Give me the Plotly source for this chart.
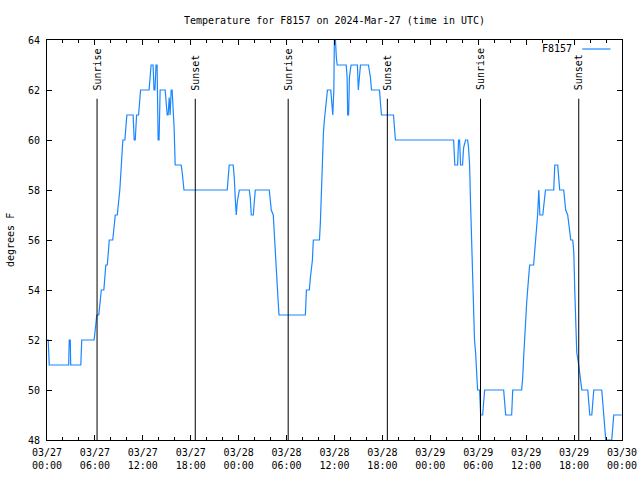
import plotly.graph_objects as go

times = [
    "2024-03-27 00:00", "2024-03-27 00:09", "2024-03-27 00:17", "2024-03-27 02:43", "2024-03-27 02:47",
    "2024-03-27 02:55", "2024-03-27 02:58", "2024-03-27 04:14", "2024-03-27 04:21", "2024-03-27 05:54",
    "2024-03-27 06:14", "2024-03-27 06:29", "2024-03-27 06:48", "2024-03-27 07:07", "2024-03-27 07:22",
    "2024-03-27 07:33", "2024-03-27 07:48", "2024-03-27 08:14", "2024-03-27 08:33", "2024-03-27 08:48",
    "2024-03-27 09:07", "2024-03-27 09:20", "2024-03-27 09:30", "2024-03-27 09:45", "2024-03-27 10:00",
    "2024-03-27 10:47", "2024-03-27 10:55", "2024-03-27 11:03", "2024-03-27 11:13", "2024-03-27 11:28",
    "2024-03-27 11:43", "2024-03-27 12:47", "2024-03-27 13:02", "2024-03-27 13:17", "2024-03-27 13:24",
    "2024-03-27 13:31", "2024-03-27 13:39", "2024-03-27 13:47", "2024-03-27 13:55", "2024-03-27 14:02",
    "2024-03-27 14:10", "2024-03-27 14:48", "2024-03-27 14:55", "2024-03-27 15:03", "2024-03-27 15:10",
    "2024-03-27 15:18", "2024-03-27 15:25", "2024-03-27 15:33", "2024-03-27 15:40", "2024-03-27 15:48",
    "2024-03-27 15:55", "2024-03-27 16:03", "2024-03-27 16:48", "2024-03-27 16:56", "2024-03-27 17:03",
    "2024-03-27 17:09", "2024-03-27 22:34", "2024-03-27 22:49", "2024-03-27 23:19", "2024-03-27 23:27",
    "2024-03-27 23:34", "2024-03-27 23:42", "2024-03-27 23:49",
    "2024-03-28 00:05", "2024-03-28 01:20", "2024-03-28 01:27", "2024-03-28 01:35", "2024-03-28 01:50",
    "2024-03-28 01:57", "2024-03-28 02:05", "2024-03-28 03:50", "2024-03-28 03:58", "2024-03-28 04:05",
    "2024-03-28 04:20", "2024-03-28 04:25", "2024-03-28 04:33", "2024-03-28 04:40", "2024-03-28 04:48",
    "2024-03-28 04:55", "2024-03-28 05:03", "2024-03-28 08:21", "2024-03-28 08:29", "2024-03-28 08:51",
    "2024-03-28 08:59", "2024-03-28 09:06", "2024-03-28 09:14", "2024-03-28 09:21", "2024-03-28 10:07",
    "2024-03-28 10:14", "2024-03-28 10:22", "2024-03-28 10:29", "2024-03-28 10:37", "2024-03-28 10:44",
    "2024-03-28 10:52", "2024-03-28 10:59", "2024-03-28 11:07", "2024-03-28 11:32", "2024-03-28 11:40",
    "2024-03-28 11:47", "2024-03-28 11:55", "2024-03-28 11:59", "2024-03-28 12:07", "2024-03-28 12:11",
    "2024-03-28 12:14", "2024-03-28 12:20", "2024-03-28 13:28", "2024-03-28 13:35", "2024-03-28 13:39",
    "2024-03-28 13:46", "2024-03-28 13:52", "2024-03-28 13:59", "2024-03-28 14:05", "2024-03-28 14:52",
    "2024-03-28 14:59", "2024-03-28 15:07", "2024-03-28 15:15", "2024-03-28 16:15", "2024-03-28 16:23",
    "2024-03-28 16:30", "2024-03-28 16:38", "2024-03-28 17:38", "2024-03-28 17:45", "2024-03-28 17:53",
    "2024-03-28 19:23", "2024-03-28 19:31", "2024-03-28 19:38",
    "2024-03-29 02:55", "2024-03-29 03:04", "2024-03-29 03:25", "2024-03-29 03:32", "2024-03-29 03:40",
    "2024-03-29 03:47", "2024-03-29 04:02", "2024-03-29 04:10", "2024-03-29 04:25", "2024-03-29 04:40",
    "2024-03-29 04:47", "2024-03-29 04:55", "2024-03-29 05:02", "2024-03-29 05:10", "2024-03-29 05:17",
    "2024-03-29 05:25", "2024-03-29 05:32", "2024-03-29 05:40", "2024-03-29 05:47", "2024-03-29 05:55",
    "2024-03-29 06:10", "2024-03-29 06:18", "2024-03-29 06:33", "2024-03-29 06:40", "2024-03-29 06:48",
    "2024-03-29 09:11", "2024-03-29 09:19", "2024-03-29 09:26", "2024-03-29 10:11", "2024-03-29 10:19",
    "2024-03-29 11:26", "2024-03-29 11:34", "2024-03-29 11:41", "2024-03-29 11:49", "2024-03-29 11:56",
    "2024-03-29 12:04", "2024-03-29 12:11", "2024-03-29 12:19", "2024-03-29 12:26", "2024-03-29 12:56",
    "2024-03-29 13:04", "2024-03-29 13:11", "2024-03-29 13:19", "2024-03-29 13:26", "2024-03-29 13:35",
    "2024-03-29 13:43", "2024-03-29 14:05", "2024-03-29 14:13", "2024-03-29 14:25", "2024-03-29 15:27",
    "2024-03-29 15:35", "2024-03-29 15:57", "2024-03-29 16:05", "2024-03-29 16:12", "2024-03-29 16:42",
    "2024-03-29 16:50", "2024-03-29 16:57", "2024-03-29 17:12", "2024-03-29 17:20", "2024-03-29 17:27",
    "2024-03-29 17:35", "2024-03-29 17:50", "2024-03-29 17:58", "2024-03-29 18:05", "2024-03-29 18:13",
    "2024-03-29 18:20", "2024-03-29 18:35", "2024-03-29 18:43", "2024-03-29 18:50", "2024-03-29 18:58",
    "2024-03-29 19:43", "2024-03-29 19:50", "2024-03-29 19:58", "2024-03-29 20:13", "2024-03-29 20:20",
    "2024-03-29 20:28", "2024-03-29 21:28", "2024-03-29 21:35", "2024-03-29 21:43", "2024-03-29 21:50",
    "2024-03-29 21:58", "2024-03-29 22:43", "2024-03-29 22:51", "2024-03-29 22:58", "2024-03-29 23:58",
]

temps_f = [
    52, 52, 51, 51, 52, 52, 51, 51, 52, 52,
    53, 53, 54, 54, 55, 55, 56, 56, 57, 57,
    58, 59, 60, 60, 61, 61, 60, 60, 61, 61,
    62, 62, 63, 63, 62, 62, 63, 63, 60, 60,
    62, 62, 61.5, 61, 61, 61.7, 61, 62, 62, 61.2,
    60.5, 59, 59, 58.7, 58.3, 58, 58, 59, 59, 58.5,
    57.7, 57, 57.5,
    58, 58, 57.7, 57, 57, 57.5, 58, 58, 57.5, 57.2,
    57, 56.5, 55.5, 54.7, 54.3, 53.7, 53, 53, 54, 54,
    54.5, 54.8, 55.2, 56, 56, 56.7, 58.3, 59.5, 60.3, 60.8,
    61.2, 61.6, 62, 62, 61.5, 61, 62, 64, 64, 63.3,
    63.3, 63, 63, 62.5, 61, 61, 62.5, 62.8, 63, 63,
    62, 62.5, 63, 63, 62.8, 62.5, 62, 62, 61.5, 61,
    61, 60.5, 60,
    60, 59, 59, 60, 60, 59, 59, 59.7, 60, 60,
    59.7, 59, 57.5, 56, 54, 53, 52, 51.5, 50.5, 50,
    50, 49, 49, 49.5, 50, 50, 49.5, 49, 49, 50,
    50, 50.5, 51.3, 52.3, 53, 53.5, 54, 54.5, 55, 55,
    55.5, 56, 56.5, 57, 58, 57, 57, 57.5, 58, 58,
    59, 59, 58.6, 58, 58, 57.5, 57.2, 57, 56.7, 56.3,
    56, 56, 55.5, 54, 52.5, 51.5, 51, 50.7, 50.3, 50,
    50, 49.5, 49, 49, 49.5, 50, 50, 49.5, 49, 48.5,
    48, 48, 48.5, 49, 49,
]

sun_times = ["2024-03-27 06:16", "2024-03-27 18:34", "2024-03-28 06:12",
             "2024-03-28 18:37", "2024-03-29 06:17", "2024-03-29 18:35"]
sun_labels = ["Sunrise", "Sunset", "Sunrise", "Sunset", "Sunrise", "Sunset"]

x_tickvals = ["2024-03-27 00:00", "2024-03-27 06:00", "2024-03-27 12:00", "2024-03-27 18:00",
              "2024-03-28 00:00", "2024-03-28 06:00", "2024-03-28 12:00", "2024-03-28 18:00",
              "2024-03-29 00:00", "2024-03-29 06:00", "2024-03-29 12:00", "2024-03-29 18:00",
              "2024-03-30 00:00"]
x_ticktext = ["03/27<br>00:00", "03/27<br>06:00", "03/27<br>12:00", "03/27<br>18:00",
              "03/28<br>00:00", "03/28<br>06:00", "03/28<br>12:00", "03/28<br>18:00",
              "03/29<br>00:00", "03/29<br>06:00", "03/29<br>12:00", "03/29<br>18:00",
              "03/30<br>00:00"]

series_name = "F8157"
line_color = "#1a86ff"
FONT = "DejaVu Sans Mono"

W, H = 640, 480

fig = go.Figure()
fig.add_trace(go.Scatter(x=times, y=temps_f, mode="lines", name=series_name,
                         line=dict(color=line_color, width=1.2), showlegend=False,
                         hoverinfo="skip"))

for t, lab in zip(sun_times, sun_labels):
    fig.add_shape(type="line", xref="x", yref="y", x0=t, x1=t, y0=48, y1=61.65,
                  line=dict(color="black", width=1))
    fig.add_annotation(x=t, y=61.9, xref="x", yref="y", text=lab, textangle=-90,
                       showarrow=False, xanchor="center", yanchor="bottom",
                       font=dict(family=FONT, size=10, color="black"))

# legend (text left of sample line, gnuplot style)
fig.add_annotation(x=0.917, y=0.9775, xref="paper", yref="paper", text=series_name,
                   showarrow=False, xanchor="right", yanchor="middle",
                   font=dict(family=FONT, size=10, color="black"))
fig.add_shape(type="line", xref="paper", yref="paper", x0=0.931, x1=0.980,
              y0=0.9775, y1=0.9775, line=dict(color=line_color, width=1.2))

# y-axis label
fig.add_annotation(x=0, y=0.5, xref="paper", yref="paper", text="degrees F",
                   textangle=-90, showarrow=False, xanchor="center", yanchor="middle",
                   xshift=-37, font=dict(family=FONT, size=10, color="black"))

fig.update_layout(
    width=W, height=H,
    margin=dict(l=47, r=18, t=40, b=40, autoexpand=False),
    paper_bgcolor="white", plot_bgcolor="white",
    font=dict(family=FONT, size=10, color="black"),
    title=dict(text="Temperature for F8157 on 2024-Mar-27 (time in UTC)",
               x=0.5, xref="paper", xanchor="center", y=1 - 20 / H, yref="container",
               yanchor="middle", font=dict(family=FONT, size=10, color="black")),
    showlegend=False,
)
fig.update_xaxes(
    type="date", range=["2024-03-27 00:00", "2024-03-30 00:00"], automargin=False,
    tickmode="array", tickvals=x_tickvals, ticktext=x_ticktext,
    ticks="inside", ticklen=5, tickcolor="black", showline=True, linecolor="black",
    linewidth=1, mirror="ticks", showgrid=False, zeroline=False, ticklabelstandoff=3,
    ticklabeloverflow="allow",
    minor=dict(tickmode="linear", tick0="2024-03-27 00:00", dtick=2 * 3600 * 1000,
               ticks="inside", ticklen=3, tickcolor="black", showgrid=False),
    tickfont=dict(family=FONT, size=10),
)
fig.update_yaxes(
    range=[48, 64], dtick=2, tick0=48, ticks="inside", ticklen=5, tickcolor="black",
    showline=True, linecolor="black", linewidth=1, mirror="ticks", showgrid=False,
    zeroline=False, ticklabelstandoff=4, automargin=False,
    tickfont=dict(family=FONT, size=10),
)

fig.write_html("out.html", config={"displayModeBar": False},
               post_script="document.body.style.margin='0';")
